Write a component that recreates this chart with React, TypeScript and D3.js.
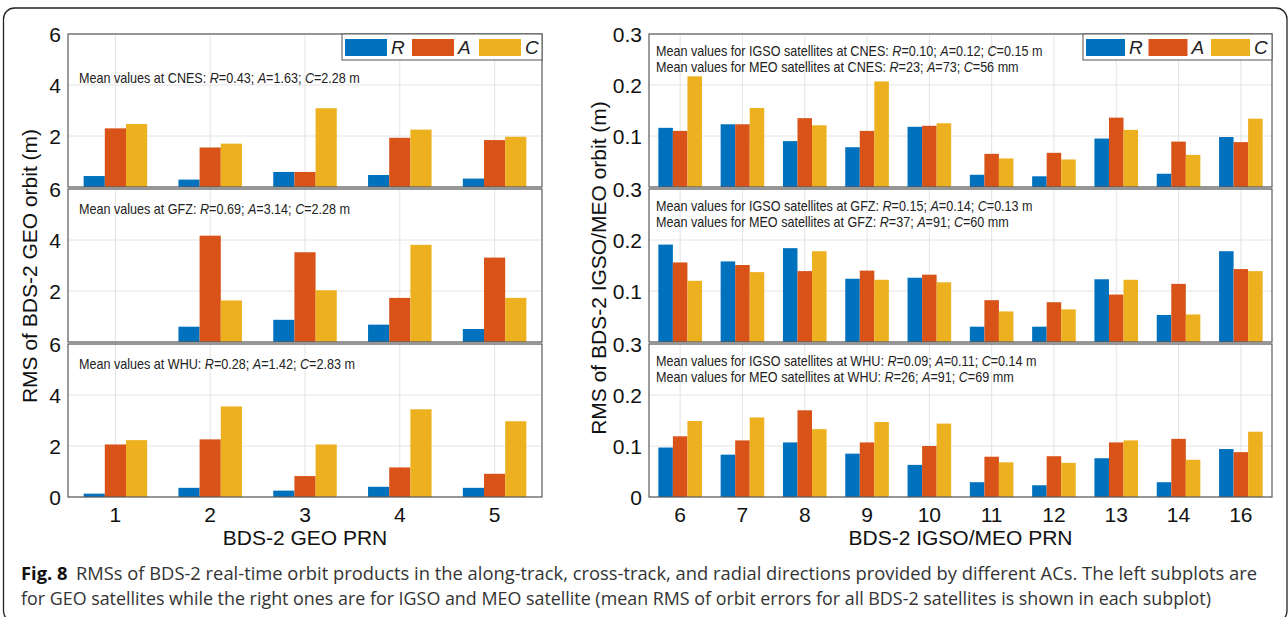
import React from 'react';
import * as d3 from 'd3';

// PRN categories
const geoPrn = ['1', '2', '3', '4', '5'];
const igsoPrn = ['6', '7', '8', '9', '10', '11', '12', '13', '14', '16'];
const seriesNames = ['R', 'A', 'C'];

// GEO RMS (m)
const geoCnesR = [0.43, 0.29, 0.59, 0.47, 0.33];
const geoCnesA = [2.3, 1.55, 0.59, 1.93, 1.84];
const geoCnesC = [2.47, 1.7, 3.09, 2.25, 1.97];
const geoGfzR = [null, 0.6, 0.87, 0.68, 0.51];
const geoGfzA = [null, 4.17, 3.52, 1.73, 3.31];
const geoGfzC = [null, 1.63, 2.03, 3.81, 1.73];
const geoWhuR = [0.13, 0.36, 0.25, 0.4, 0.36];
const geoWhuA = [2.06, 2.26, 0.82, 1.16, 0.91];
const geoWhuC = [2.23, 3.55, 2.06, 3.44, 2.97];

// IGSO/MEO RMS (m)
const igsoCnesR = [0.116, 0.123, 0.09, 0.078, 0.118, 0.024, 0.021, 0.095, 0.026, 0.098];
const igsoCnesA = [0.11, 0.123, 0.135, 0.11, 0.12, 0.065, 0.067, 0.136, 0.089, 0.088];
const igsoCnesC = [0.217, 0.155, 0.121, 0.207, 0.125, 0.056, 0.054, 0.112, 0.063, 0.134];
const igsoGfzR = [0.191, 0.158, 0.184, 0.124, 0.126, 0.03, 0.03, 0.123, 0.053, 0.178];
const igsoGfzA = [0.156, 0.151, 0.139, 0.14, 0.132, 0.082, 0.078, 0.093, 0.114, 0.143];
const igsoGfzC = [0.12, 0.137, 0.178, 0.122, 0.117, 0.06, 0.064, 0.122, 0.054, 0.139];
const igsoWhuR = [0.097, 0.083, 0.107, 0.085, 0.063, 0.029, 0.023, 0.076, 0.029, 0.094];
const igsoWhuA = [0.119, 0.111, 0.17, 0.107, 0.1, 0.079, 0.08, 0.107, 0.114, 0.088];
const igsoWhuC = [0.149, 0.156, 0.133, 0.147, 0.144, 0.068, 0.067, 0.111, 0.073, 0.128];

// tick labels
const geoTicks = [0, 2, 4, 6];
const igsoTicks = [0, 0.1, 0.2, 0.3];

// mean value annotations
const acNames = ['CNES', 'GFZ', 'WHU'];
const geoMeans = [['0.43', '1.63', '2.28'], ['0.69', '3.14', '2.28'], ['0.28', '1.42', '2.83']];
const igsoMeans = [['0.10', '0.12', '0.15'], ['0.15', '0.14', '0.13'], ['0.09', '0.11', '0.14']];
const meoMeans = [['23', '73', '56'], ['37', '91', '60'], ['26', '91', '69']];

const captionLine1 = 'RMSs of BDS-2 real-time orbit products in the along-track, cross-track, and radial directions provided by different ACs. The left subplots are';
const captionLine2 = 'for GEO satellites while the right ones are for IGSO and MEO satellite (mean RMS of orbit errors for all BDS-2 satellites is shown in each subplot)';

const COLORS = ['#0072BD', '#D95319', '#EDB120'];
const FONT = '"Liberation Sans", Arial, sans-serif';
const CAPFONT = '"Open Sans", "Noto Sans", sans-serif';

const panelTops = [34, 189, 344];
const panelH = 153;

type Vals = (number | null)[];

// matlab-ish condensed annotation text
const MeanText = ({ x, y, prefix, vals, unit }: { x: number; y: number; prefix: string; vals: string[]; unit: string }) => (
  <g transform={`translate(${x},${y}) scale(0.9,1)`}>
    <text x={0} y={0} fontFamily={FONT} fontSize={14} fill="#222">
      {prefix}
      <tspan fontStyle="italic">R</tspan>={vals[0]}; <tspan fontStyle="italic">A</tspan>={vals[1]};{' '}
      <tspan fontStyle="italic">C</tspan>={vals[2]} {unit}
    </text>
  </g>
);

const Panel = ({
  x0, x1, top, cats, series, yMax, ticks, tickFmt, showZero, children, barFrac,
}: {
  x0: number; x1: number; top: number; cats: string[]; series: Vals[]; yMax: number;
  ticks: number[]; tickFmt: (v: number) => string; showZero: boolean; children?: React.ReactNode;
  barFrac: number;
}) => {
  const bottom = top + panelH;
  const x = d3.scaleBand<string>().domain(cats).range([x0, x1]).padding(0);
  const inner = d3.scaleBand<string>().domain(seriesNames)
    .range([-x.bandwidth() * barFrac / 2, x.bandwidth() * barFrac / 2]).padding(0);
  const y = d3.scaleLinear().domain([0, yMax]).range([bottom, top]);
  return (
    <g>
      <rect x={x0} y={top} width={x1 - x0} height={panelH} fill="#fff" />
      {ticks.map((t) => (
        <line key={'h' + t} x1={x0} x2={x1} y1={y(t)} y2={y(t)} stroke="#e4e4e4" strokeWidth={1} />
      ))}
      {cats.map((c) => (
        <line key={'v' + c} x1={x(c)! + x.bandwidth() / 2} x2={x(c)! + x.bandwidth() / 2} y1={top} y2={bottom} stroke="#e4e4e4" strokeWidth={1} />
      ))}
      {series.map((vals, si) =>
        vals.map((v, ci) =>
          v == null ? null : (
            <rect
              key={si + '-' + ci}
              x={x(cats[ci])! + x.bandwidth() / 2 + inner(seriesNames[si])!}
              y={y(v)}
              width={inner.bandwidth()}
              height={bottom - y(v)}
              fill={COLORS[si]}
            />
          )
        )
      )}
      <rect x={x0} y={top} width={x1 - x0} height={panelH} fill="none" stroke="#5a5a5a" strokeWidth={1.2} />
      {ticks.filter((t) => showZero || t !== 0).map((t) => (
        <text key={'t' + t} x={x0 - 7} y={y(t)} dy="0.36em" textAnchor="end" fontFamily={FONT} fontSize={21} fill="#111">
          {tickFmt(t)}
        </text>
      ))}
      {children}
    </g>
  );
};

const Legend = ({ x0, x1, y0, sw, step }: { x0: number; x1: number; y0: number; sw: number; step: number }) => (
  <g>
    <rect x={x0} y={y0} width={x1 - x0} height={26} fill="#fff" stroke="#555" strokeWidth={1} />
    {seriesNames.map((s, i) => (
      <g key={s}>
        <rect x={x0 + 3 + i * step} y={y0 + 5} width={sw} height={17} fill={COLORS[i]} />
        <text x={x0 + 3 + i * step + sw + 4} y={y0 + 20} fontFamily={FONT} fontStyle="italic" fontSize={19} fill="#222">
          {s}
        </text>
      </g>
    ))}
  </g>
);

export default function App() {
  const lx0 = 68, lx1 = 542, rx0 = 649, rx1 = 1272;
  const geoSeries: Vals[][] = [
    [geoCnesR, geoCnesA, geoCnesC],
    [geoGfzR, geoGfzA, geoGfzC],
    [geoWhuR, geoWhuA, geoWhuC],
  ];
  const igsoSeries: Vals[][] = [
    [igsoCnesR, igsoCnesA, igsoCnesC],
    [igsoGfzR, igsoGfzA, igsoGfzC],
    [igsoWhuR, igsoWhuA, igsoWhuC],
  ];
  const xl = d3.scaleBand<string>().domain(geoPrn).range([lx0, lx1]);
  const xr = d3.scaleBand<string>().domain(igsoPrn).range([rx0, rx1]);

  return (
    <svg width={1288} height={617} style={{ position: 'absolute', left: 0, top: 0, background: '#fff' }}>
      <rect x={0} y={0} width={1288} height={617} fill="#fff" />
      {/* figure frame, bottom edge runs just past the picture */}
      <rect x={3.5} y={8} width={1283.5} height={614} rx={11} ry={11} fill="none" stroke="#222" strokeWidth={1.3} />

      {panelTops.map((top, i) => (
        <Panel key={'l' + i} x0={lx0} x1={lx1} top={top} cats={geoPrn} series={geoSeries[i]} yMax={6}
          ticks={geoTicks} tickFmt={(v) => String(v)} showZero={i === 2} barFrac={0.67}>
          {i === 0 && <Legend x0={342} x1={lx1} y0={top} sw={42} step={67} />}
          <MeanText x={lx0 + 11} y={top + (i === 0 ? 49 : 25)} prefix={`Mean values at ${acNames[i]}: `} vals={geoMeans[i]} unit="m" />
        </Panel>
      ))}
      {panelTops.map((top, i) => (
        <Panel key={'r' + i} x0={rx0} x1={rx1} top={top} cats={igsoPrn} series={igsoSeries[i]} yMax={0.3}
          ticks={igsoTicks} tickFmt={(v) => (v === 0 ? '0' : d3.format('.1f')(v))} showZero={i === 2} barFrac={0.7}>
          {i === 0 && <Legend x0={1083} x1={rx1} y0={top} sw={39} step={62.5} />}
          <MeanText x={rx0 + 7} y={top + 22} prefix={`Mean values for IGSO satellites at ${acNames[i]}: `} vals={igsoMeans[i]} unit="m" />
          <MeanText x={rx0 + 7} y={top + 38} prefix={`Mean values for MEO satellites at ${acNames[i]}: `} vals={meoMeans[i]} unit="mm" />
        </Panel>
      ))}

      {geoPrn.map((p) => (
        <text key={'xl' + p} x={xl(p)! + xl.bandwidth() / 2} y={522} textAnchor="middle" fontFamily={FONT} fontSize={21} fill="#111">{p}</text>
      ))}
      {igsoPrn.map((p) => (
        <text key={'xr' + p} x={xr(p)! + xr.bandwidth() / 2} y={522} textAnchor="middle" fontFamily={FONT} fontSize={21} fill="#111">{p}</text>
      ))}
      <text x={(lx0 + lx1) / 2} y={545} textAnchor="middle" fontFamily={FONT} fontSize={21} fill="#111">BDS-2 GEO PRN</text>
      <text x={(rx0 + rx1) / 2} y={545} textAnchor="middle" fontFamily={FONT} fontSize={21} fill="#111">BDS-2 IGSO/MEO PRN</text>
      <text transform="translate(37,266) rotate(-90)" textAnchor="middle" fontFamily={FONT} fontSize={21} fill="#111">RMS of BDS-2 GEO orbit (m)</text>
      <text transform="translate(606,268) rotate(-90)" textAnchor="middle" fontFamily={FONT} fontSize={21} fill="#111">RMS of BDS-2 IGSO/MEO orbit (m)</text>

      <text x={21} y={580} fontFamily={CAPFONT} fontSize={17.5} fill="#333" textLength={1236} lengthAdjust="spacingAndGlyphs">
        <tspan fontWeight="bold" fill="#111">Fig. 8</tspan>
        <tspan dx={8}>{captionLine1}</tspan>
      </text>
      <text x={21} y={605} fontFamily={CAPFONT} fontSize={17.5} fill="#333" textLength={1190} lengthAdjust="spacingAndGlyphs">
        {captionLine2}
      </text>
    </svg>
  );
}
